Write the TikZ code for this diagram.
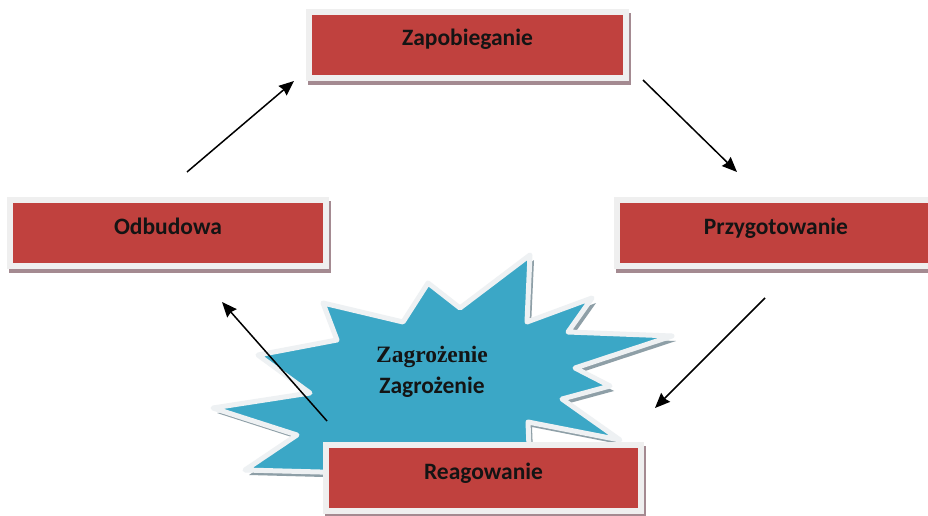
\documentclass[tikz,border=0pt]{standalone}
\usepackage{fontspec}
\setmainfont{Carlito}
\newfontfamily\threatserif{Liberation Serif}
\usetikzlibrary{arrows.meta}
\definecolor{boxred}{HTML}{C0413E}
\definecolor{boxframe}{HTML}{EFEFEF}
\definecolor{boxshade}{HTML}{A48A91}
\definecolor{starblue}{HTML}{3BA7C6}
\definecolor{staredge}{HTML}{EEF1F3}
\definecolor{starshade}{HTML}{8E9FA7}
\definecolor{txt}{HTML}{141414}
\tikzset{
  phasebox/.style={fill=boxred, draw=boxframe, line width=6pt,
    minimum width=317pt, minimum height=66pt, inner sep=0pt,
    text height=2pt, text depth=0pt, text=txt,
    font=\fontsize{23.5}{28}\selectfont\bfseries,
    preaction={draw=boxshade, fill=boxshade, line width=6pt,
      transform canvas={shift={(1.5,4)}}}},
  cyclearrow/.style={draw=black, line width=1.5pt,
    -{Stealth[length=15pt,width=12.5pt,inset=1.5pt]}}
}
\begin{document}
\begin{tikzpicture}[x=1pt,y=-1pt]
\useasboundingbox (0,0) rectangle (928,516);
\clip (0,0) rectangle (928,516);
\fill[white] (0,0) rectangle (928,516);

% threat starburst: shadow
\fill[starshade, shift={(4,5)}]
 (258,355) -- (337,340) -- (323,303) -- (403,322) -- (428,283) -- (460,308)
 -- (530,255) -- (527,322) -- (592,298) -- (568,332) -- (672,336) -- (575,368)
 -- (610,386) -- (562,399) -- (620,440) -- (528,422) -- (530,472) -- (320,472)
 -- (245,470) -- (297,435) -- (213,408) -- (310,393) -- cycle;
% threat starburst
\filldraw[fill=starblue, draw=staredge, line width=5pt, line join=round]
 (258,355) -- (337,340) -- (323,303) -- (403,322) -- (428,283) -- (460,308)
 -- (530,255) -- (527,322) -- (592,298) -- (568,332) -- (672,336) -- (575,368)
 -- (610,386) -- (562,399) -- (620,440) -- (528,422) -- (530,472) -- (320,472)
 -- (245,470) -- (297,435) -- (213,408) -- (310,393) -- cycle;
\node[align=center, text=txt, inner sep=0pt] (threat) at (432,372)
 {{\threatserif\fontsize{23.5}{28}\selectfont\bfseries Zagrożenie}\\[8pt]
  {\fontsize{23.5}{28}\selectfont\bfseries Zagrożenie}};

% phase boxes
\node[phasebox, minimum width=317pt] (zap) at (467.5,45) {Zapobieganie};
\node[phasebox, minimum width=316pt] (odb) at (168,233) {Odbudowa};
\node[phasebox, minimum width=318pt] (prz) at (776,233) {Przygotowanie};
\node[phasebox, minimum width=315pt] (rea) at (483.5,478) {Reagowanie};

% arrow end points
\coordinate (a1s) at (187,172);
\coordinate (a1e) at (294,81);
\coordinate (a2s) at (643,80);
\coordinate (a2e) at (737,172);
\coordinate (a3s) at (765,298);
\coordinate (a3e) at (655,408);
\coordinate (a4s) at (327,421);
\coordinate (a4e) at (222,302);

\draw[cyclearrow] (a1s) -- (a1e);
\draw[cyclearrow] (a2s) -- (a2e);
\draw[cyclearrow] (a3s) -- (a3e);
\draw[cyclearrow] (a4s) -- (a4e);
\end{tikzpicture}
\end{document}
